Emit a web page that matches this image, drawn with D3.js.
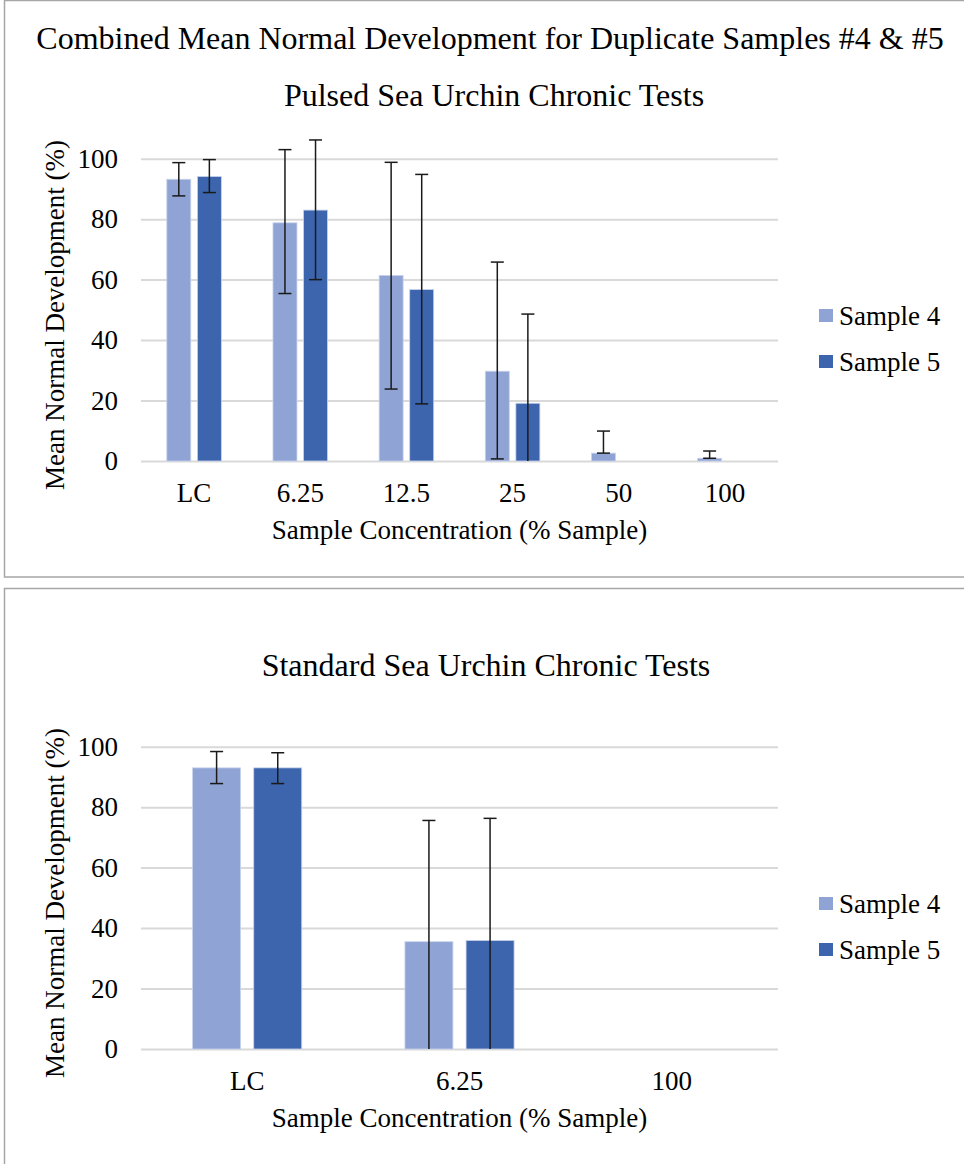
<!DOCTYPE html>
<html>
<head>
<meta charset="utf-8">
<script src="https://cdn.jsdelivr.net/npm/d3@7"></script>
<style>
  body { margin: 0; background: #fff; }
  svg text { font-family: "Liberation Serif", "Times New Roman", serif; fill: #000; }
</style>
</head>
<body>
<div id="chart"></div>
<script>
// pulsed test data (mean normal development, %)
const pulsedCategories = ["LC", "6.25", "12.5", "25", "50", "100"];
const pulsedSample4 = [93.2, 78.8, 61.4, 29.7, 2.6, 0.9];
const pulsedSample5 = [94.1, 83.0, 56.7, 19.1, 0, 0];
const pulsedErr4Plus = [5.5, 24.2, 37.4, 36.1, 7.3, 2.4];
const pulsedErr4Minus = [5.5, 23.4, 37.6, 29.0, 0, 0];
const pulsedErr5Plus = [5.6, 23.2, 38.1, 29.5, 0, 0];
const pulsedErr5Minus = [5.3, 23.0, 37.8, 29.5, 0, 0];

// standard test data
const standardCategories = ["LC", "6.25", "100"];
const standardSample4 = [93.0, 35.5, 0];
const standardSample5 = [93.0, 35.9, 0];
const standardErr4Plus = [5.4, 40.1, 0];
const standardErr4Minus = [5.2, 40.1, 0];
const standardErr5Plus = [5.0, 40.4, 0];
const standardErr5Minus = [5.2, 40.4, 0];

const seriesNames = ["Sample 4", "Sample 5"];
const seriesColors = ["#8fa4d5", "#3c65ad"];
const yTicks = [0, 20, 40, 60, 80, 100];

const svg = d3.select("#chart").append("svg")
    .attr("width", 964)
    .attr("height", 1164);

function drawChart(opts) {
    let g = svg.append("g").attr("transform", "translate(0," + opts.top + ")");

    // panel border
    g.append("rect")
        .attr("x", 4.5).attr("y", 0.5)
        .attr("width", 975).attr("height", opts.panelHeight)
        .attr("fill", "#fff")
        .attr("stroke", "#a6a6a6")
        .attr("stroke-width", 1.5);

    // titles
    opts.titles.forEach(function (t) {
        g.append("text")
            .attr("x", t.x).attr("y", t.y)
            .attr("text-anchor", "middle")
            .style("font-size", "32px")
            .text(t.text);
    });

    let x0 = d3.scaleBand()
        .domain(opts.categories)
        .range([141, 778]);

    let x1 = d3.scaleBand()
        .domain(seriesNames)
        .range([0.243 * x0.bandwidth(), 0.757 * x0.bandwidth()])
        .paddingInner(0.215);

    let y = d3.scaleLinear()
        .domain([0, 100])
        .range([opts.y0, opts.y0 - 302.3]);

    // gridlines
    let yAxis = d3.axisLeft(y)
        .tickValues(yTicks)
        .tickSize(-(778 - 141))
        .tickPadding(23);

    let ag = g.append("g")
        .attr("transform", "translate(141,0)")
        .call(yAxis);
    ag.select(".domain").remove();
    ag.selectAll(".tick line")
        .attr("stroke", "#d9d9d9")
        .attr("stroke-width", 2);
    ag.selectAll(".tick text")
        .attr("fill", "#000")
        .style("font-size", "27px")
        .style("font-family", "'Liberation Serif', 'Times New Roman', serif");

    // x tick labels
    g.selectAll(".xlab")
        .data(opts.categories)
        .enter().append("text")
        .attr("class", "xlab")
        .attr("x", d => x0(d) + x0.bandwidth() / 2)
        .attr("y", opts.y0 + 41)
        .attr("text-anchor", "middle")
        .style("font-size", "27px")
        .text(d => d);

    // bars
    let rows = [];
    opts.series.forEach(function (s, si) {
        s.values.forEach(function (v, i) {
            rows.push({cat: opts.categories[i], name: seriesNames[si], color: seriesColors[si],
                value: v, plus: s.plus[i], minus: s.minus[i]});
        });
    });

    g.selectAll(".bar")
        .data(rows.filter(d => d.value > 0))
        .enter().append("rect")
        .attr("class", "bar")
        .attr("x", d => x0(d.cat) + x1(d.name))
        .attr("width", x1.bandwidth())
        .attr("y", d => y(d.value))
        .attr("height", d => y(0) - y(d.value))
        .attr("fill", d => d.color)
        .attr("stroke", "#c9d3ec")
        .attr("stroke-width", 0.8);

    // error bars
    let errRows = rows.filter(d => d.plus > 0 || d.minus > 0);
    let eg = g.selectAll(".err")
        .data(errRows)
        .enter().append("g")
        .attr("class", "err")
        .attr("transform", d => "translate(" + (x0(d.cat) + x1(d.name) + x1.bandwidth() / 2) + ",0)");

    eg.append("line")
        .attr("x1", 0).attr("x2", 0)
        .attr("y1", d => y(d.value + d.plus))
        .attr("y2", d => y(Math.max(0, d.value - d.minus)))
        .attr("stroke", "#1a1a1a")
        .attr("stroke-width", 1.5);

    eg.append("line")
        .attr("x1", -6.5).attr("x2", 6.5)
        .attr("y1", d => y(d.value + d.plus))
        .attr("y2", d => y(d.value + d.plus))
        .attr("stroke", "#1a1a1a")
        .attr("stroke-width", 1.5);

    eg.filter(d => d.value - d.minus >= 0)
        .append("line")
        .attr("x1", -6.5).attr("x2", 6.5)
        .attr("y1", d => y(d.value - d.minus))
        .attr("y2", d => y(d.value - d.minus))
        .attr("stroke", "#1a1a1a")
        .attr("stroke-width", 1.5);

    // axis titles
    g.append("text")
        .attr("x", 459.5)
        .attr("y", opts.y0 + 78)
        .attr("text-anchor", "middle")
        .style("font-size", "27px")
        .text("Sample Concentration (% Sample)");

    g.append("text")
        .attr("transform", "translate(64," + (opts.y0 - 146) + ") rotate(-90)")
        .attr("text-anchor", "middle")
        .style("font-size", "27px")
        .text("Mean Normal Development (%)");

    // legend
    seriesNames.forEach(function (name, i) {
        let ly = opts.y0 - 145 + i * 46;
        g.append("rect")
            .attr("x", 819).attr("y", ly - 7)
            .attr("width", 14).attr("height", 13)
            .attr("fill", seriesColors[i]);
        g.append("text")
            .attr("x", 839).attr("y", ly + 9)
            .style("font-size", "27px")
            .text(name);
    });
}

drawChart({
    top: 0,
    panelHeight: 576.5,
    y0: 461,
    categories: pulsedCategories,
    titles: [
        {text: "Combined Mean Normal Development for Duplicate Samples #4 & #5", x: 490, y: 49},
        {text: "Pulsed Sea Urchin Chronic Tests", x: 494, y: 106}
    ],
    series: [
        {values: pulsedSample4, plus: pulsedErr4Plus, minus: pulsedErr4Minus},
        {values: pulsedSample5, plus: pulsedErr5Plus, minus: pulsedErr5Minus}
    ]
});

drawChart({
    top: 588,
    panelHeight: 600,
    y0: 461,
    categories: standardCategories,
    titles: [
        {text: "Standard Sea Urchin Chronic Tests", x: 486, y: 88}
    ],
    series: [
        {values: standardSample4, plus: standardErr4Plus, minus: standardErr4Minus},
        {values: standardSample5, plus: standardErr5Plus, minus: standardErr5Minus}
    ]
});
</script>
</body>
</html>
